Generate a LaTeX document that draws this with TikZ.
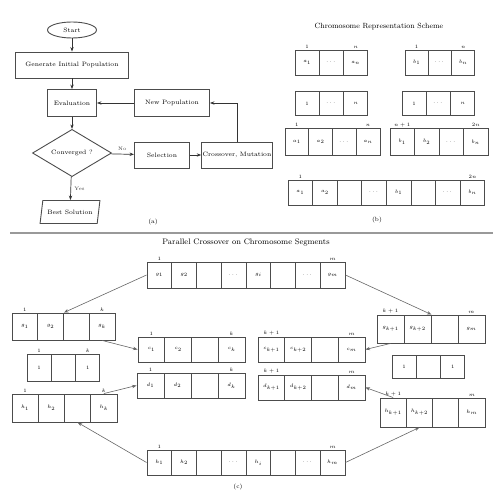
\documentclass[tikz,border=0pt]{standalone}
\usepackage{amsmath}
\usepackage{xcolor}
\usetikzlibrary{shapes.geometric,arrows.meta}

\tikzset{
	box/.style={draw=black!70,line width=0.9pt,minimum height=26,inner sep=1pt,font=\fontsize{6.3}{7}\selectfont},
	cell/.style={draw=black!70,line width=0.9pt,inner sep=0pt,font=\fontsize{5.5}{6}\selectfont},
	idx/.style={above,inner sep=1pt,font=\fontsize{4.5}{5}\selectfont},
	flow/.style={-{Stealth[length=4.5pt]},black!80,line width=0.7pt},
	link/.style={-{Stealth[length=4.5pt]},black!60,line width=0.6pt}
}

% name, left x, centre y, cell width, cell height, cell texts
\newcommand{\cellrow}[6]{%
	\foreach \t [count=\i] in {#6}{
		\node[cell,minimum width=#4,minimum height=#5] (#1\i) at ({#2+(\i-0.5)*#4},#3) {\t};
	}}

\begin{document}
\begin{tikzpicture}[x=1pt,y=-1pt]
	\useasboundingbox (0,0) rectangle (500,500);
	
	% (a) flow chart
	\node[box,ellipse,minimum width=49,minimum height=16] (start) at (72,30) {Start};
	\node[box,minimum width=113] (gen) at (72,65) {Generate Initial Population};
	\node[box,minimum width=49,minimum height=27] (eval) at (72,103) {Evaluation};
	\node[box,minimum width=75,minimum height=27] (newpop) at (172,103) {New Population};
	\node[box,diamond,minimum width=79,minimum height=47,inner sep=0pt] (stop) at (72,153) {Converged ?};
	\node[box,minimum width=55] (sel) at (162,155) {Selection};
	\node[box,minimum width=67] (cross) at (237,155) {Crossover, Mutation};
	\node[box,trapezium,trapezium left angle=70,trapezium right angle=110,minimum width=60,minimum height=23,trapezium stretches=true] (best) at (70,212) {Best Solution};
	\node[font=\fontsize{6}{7}\selectfont] (capa) at (153,222) {(a)};
	
	\draw[flow] (start) -- (gen);
	\draw[flow] (gen) -- (eval);
	\draw[flow] (eval) -- (stop);
	\draw[flow] (stop) -- node[right,font=\fontsize{5}{6}\selectfont] {Yes} (best);
	\draw[flow] (stop) -- node[above,font=\fontsize{5}{6}\selectfont] {No} (sel);
	\draw[flow] (sel) -- (cross);
	\draw[flow] (cross.north) |- (newpop.east);
	\draw[flow] (newpop) -- (eval);
	
	% (b) encoding
	\node[font=\fontsize{7.5}{8}\selectfont] (titb) at (379,27) {Chromosome Representation Scheme};
	\cellrow{ba}{295}{62.5}{24.3}{25}{$a_1$,$\cdots$,$a_n$}
	\cellrow{bb}{405}{62.5}{23.3}{25}{$b_1$,$\cdots$,$b_n$}
	\cellrow{bc}{295}{103.5}{24.3}{24}{$1$,$\cdots$,$n$}
	\cellrow{bd}{402}{103.5}{24.3}{24}{$1$,$\cdots$,$n$}
	\cellrow{be}{285}{142}{23.75}{27}{$a_1$,$a_2$,$\cdots$,$a_n$}
	\cellrow{bf}{390}{142}{24.5}{27}{$b_1$,$b_2$,$\cdots$,$b_n$}
	\cellrow{bg}{288}{192.5}{24.6}{25}{$a_1$,$a_2$,,$\cdots$,$b_1$,,$\cdots$,$b_n$}
	\node[idx] (ia1) at (ba1.north) {$1$};
	\node[idx] (ia3) at (ba3.north) {$n$};
	\node[idx] (ib1) at (bb1.north) {$1$};
	\node[idx] (ib3) at (bb3.north) {$n$};
	\node[idx] (ie1) at (be1.north) {$1$};
	\node[idx] (ie4) at (be4.north) {$n$};
	\node[idx] (if1) at (bf1.north) {$n+1$};
	\node[idx] (if4) at (bf4.north) {$2n$};
	\node[idx] (ig1) at (bg1.north) {$1$};
	\node[idx] (ig8) at (bg8.north) {$2n$};
	\node[font=\fontsize{6}{7}\selectfont] (capb) at (377,220) {(b)};
	
	% separator
	\draw[black!40,line width=1.8pt] (10,233) -- (493,233);
	
	% (c) parallel crossover
	\node[font=\fontsize{8}{9}\selectfont] (titc) at (246,243) {Parallel Crossover on Chromosome Segments};
	\cellrow{top}{147}{275}{24.75}{26}{$g_1$,$g_2$,,$\cdots$,$g_i$,,$\cdots$,$g_m$}
	\cellrow{la}{12}{326.5}{25.75}{27}{$g_1$,$g_2$,,$g_k$}
	\cellrow{lb}{27}{367.5}{24.3}{27}{$1$,,$1$}
	\cellrow{lc}{12}{408}{26.25}{28}{$h_1$,$h_2$,,$h_k$}
	\cellrow{ca}{138}{349.5}{26.75}{25}{$c_1$,$c_2$,,$c_k$}
	\cellrow{cb}{137}{385.5}{27}{25}{$d_1$,$d_2$,,$d_k$}
	\cellrow{da}{258}{349.5}{26.75}{25}{$c_{k+1}$,$c_{k+2}$,,$c_m$}
	\cellrow{db}{258}{387.5}{26.75}{25}{$d_{k+1}$,$d_{k+2}$,,$d_m$}
	\cellrow{ra}{377}{329}{27}{28}{$g_{k+1}$,$g_{k+2}$,,$g_m$}
	\cellrow{rb}{392}{366.5}{24.3}{23}{$1$,,$1$}
	\cellrow{rc}{380}{412.5}{26.25}{29}{$h_{k+1}$,$h_{k+2}$,,$h_m$}
	\cellrow{bot}{147}{462.5}{24.75}{25}{$h_1$,$h_2$,,$\cdots$,$h_i$,,$\cdots$,$h_m$}
	\node[idx] (it1) at (top1.north) {$1$};
	\node[idx] (it8) at (top8.north) {$m$};
	\node[idx] (ila1) at (la1.north) {$1$};
	\node[idx] (ila4) at (la4.north) {$k$};
	\node[idx] (ilb1) at (lb1.north) {$1$};
	\node[idx] (ilb3) at (lb3.north) {$k$};
	\node[idx] (ilc1) at (lc1.north) {$1$};
	\node[idx] (ilc4) at (lc4.north) {$k$};
	\node[idx] (ica1) at (ca1.north) {$1$};
	\node[idx] (ica4) at (ca4.north) {$k$};
	\node[idx] (icb1) at (cb1.north) {$1$};
	\node[idx] (icb4) at (cb4.north) {$k$};
	\node[idx] (ida1) at (da1.north) {$k+1$};
	\node[idx] (ida4) at (da4.north) {$m$};
	\node[idx] (idb1) at (db1.north) {$k+1$};
	\node[idx] (idb4) at (db4.north) {$m$};
	\node[idx] (ira1) at (ra1.north) {$k+1$};
	\node[idx] (ira4) at (ra4.north) {$m$};
	\node[idx] (irc1) at (rc1.north) {$k+1$};
	\node[idx] (irc4) at (rc4.north) {$m$};
	\node[idx] (ibo1) at (bot1.north) {$1$};
	\node[idx] (ibo8) at (bot8.north) {$m$};
	
	\draw[link] (top1.west) -- (la2.north east);
	\draw[link] (top8.east) -- (ra2.north east);
	\draw[link] (la4.south) -- (ca1.west);
	\draw[link] (lc4.north) -- (cb1.west);
	\draw[link] (ra1.south) -- (da4.east);
	\draw[link] (rc1.north) -- (db4.east);
	\draw[link] (bot1.west) -- (lc3.south);
	\draw[link] (bot8.east) -- (rc2.south);
	\node[font=\fontsize{6}{7}\selectfont] (capc) at (238,487) {(c)};
\end{tikzpicture}
\end{document}
